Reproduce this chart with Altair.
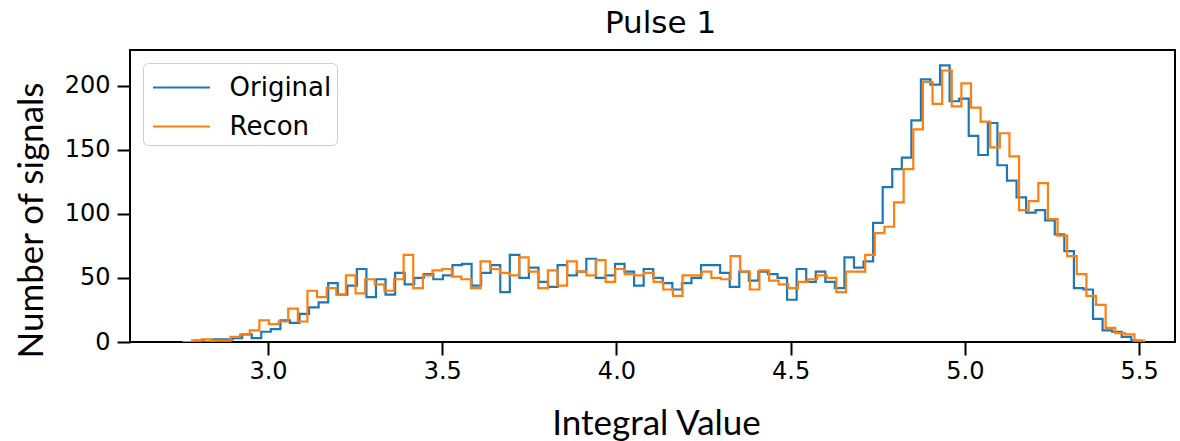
import altair as alt
import numpy as np
import pandas as pd

# Histogram counts (100 bins each)
original_counts = [
    0, 1, 0, 2, 2, 3, 6, 3, 8, 10,
    17, 15, 22, 27, 31, 46, 37, 44, 57, 35,
    49, 37, 54, 45, 50, 53, 49, 52, 60, 61,
    44, 54, 60, 39, 68, 50, 58, 47, 43, 60,
    52, 55, 65, 50, 52, 61, 55, 44, 57, 50,
    46, 41, 46, 50, 60, 60, 54, 43, 55, 48,
    55, 53, 50, 33, 57, 47, 55, 47, 42, 66,
    58, 63, 93, 121, 135, 144, 173, 205, 201, 216,
    188, 190, 161, 146, 171, 138, 126, 113, 101, 103,
    95, 84, 71, 42, 41, 18, 9, 8, 4, 1,
]
recon_counts = [
    0, 1, 2, 1, 1, 4, 6, 9, 17, 14,
    16, 26, 16, 40, 35, 42, 37, 52, 38, 49,
    45, 40, 49, 68, 42, 52, 56, 57, 51, 49,
    42, 63, 57, 54, 52, 66, 55, 42, 56, 44,
    63, 55, 52, 64, 47, 57, 53, 52, 54, 47,
    41, 36, 52, 52, 55, 50, 49, 67, 55, 41,
    56, 48, 45, 42, 47, 49, 52, 50, 39, 55,
    55, 68, 85, 90, 109, 135, 166, 203, 186, 212,
    184, 202, 183, 172, 152, 163, 145, 103, 110, 124,
    96, 83, 67, 53, 36, 29, 11, 7, 6, 1,
]
# data ranges (first and last bin edge) of each histogram
original_range = [2.7612, 5.5049]
recon_range = [2.7545, 5.5143]

series_names = ["Original", "Recon"]
series_colors = ["#1f77b4", "#ff7f0e"]
x_ticks = [3.0, 3.5, 4.0, 4.5, 5.0, 5.5]
y_ticks = [0, 50, 100, 150, 200]


def step_rows(name, counts, rng):
    edges = np.linspace(rng[0], rng[1], len(counts) + 1)
    xs = [edges[0]] + list(edges[:-1]) + [edges[-1], edges[-1]]
    ys = [0] + list(counts) + [counts[-1], 0]
    return pd.DataFrame({"series": name, "idx": range(len(xs)), "x": xs, "y": ys})


df = pd.concat([
    step_rows("Original", original_counts, original_range),
    step_rows("Recon", recon_counts, recon_range),
], ignore_index=True)

chart = alt.Chart(df).mark_line(
    interpolate="step-after", strokeWidth=2.2, clip=True
).encode(
    x=alt.X(
        "x:Q",
        scale=alt.Scale(domain=[2.604, 5.603], nice=False, zero=False),
        axis=alt.Axis(
            values=x_ticks, format=".1f", title="Integral Value",
            titleX=526, titleY=92, titleBaseline="alphabetic", titleAlign="center",
            labelPadding=4,
        ),
    ),
    y=alt.Y(
        "y:Q",
        scale=alt.Scale(domain=[0, 228], nice=False),
        axis=alt.Axis(
            values=y_ticks, title="Number of signals",
            titleAngle=270, titleX=-88, titleY=170, titleBaseline="alphabetic",
            titleAlign="center", labelPadding=7,
        ),
    ),
    color=alt.Color(
        "series:N",
        scale=alt.Scale(domain=series_names, range=series_colors),
        legend=alt.Legend(
            orient="none", legendX=13, legendY=13, title=None,
            symbolType="M-1.63,0H1.63", symbolSize=1225, symbolStrokeWidth=2.2,
            symbolOffset=14,
            labelFont="DejaVu Sans", labelFontSize=26, labelColor="black",
            labelOffset=29, labelLimit=400, padding=5.5, rowPadding=7,
            labelExpr="datum.label + ' \u2009'",
            cornerRadius=5, strokeColor="#d0d0d0", fillColor="white",
        ),
    ),
    order=alt.Order("idx:Q"),
).properties(
    width=1045,
    height=292,
    background="white",
    title=alt.Title(
        "Pulse 1", font="DejaVu Sans", fontSize=31, fontWeight="normal",
        anchor="middle", baseline="alphabetic", offset=17, dy=31, dx=8,
        color="black",
    ),
    padding={"left": 130, "top": 50, "right": 5, "bottom": 99},
    autosize=alt.AutoSizeParams(type="none"),
).configure_view(
    stroke="black", strokeWidth=2
).configure_axis(
    domain=False, grid=False,
    tickSize=13, tickWidth=2, tickColor="black",
    labelFont="DejaVu Sans", labelFontSize=24, labelColor="black",
    titleFont="Lato", titleFontSize=35, titleFontWeight="normal", titleColor="black",
)

chart.save("out.html", embed_options={"renderer": "svg", "actions": False})
